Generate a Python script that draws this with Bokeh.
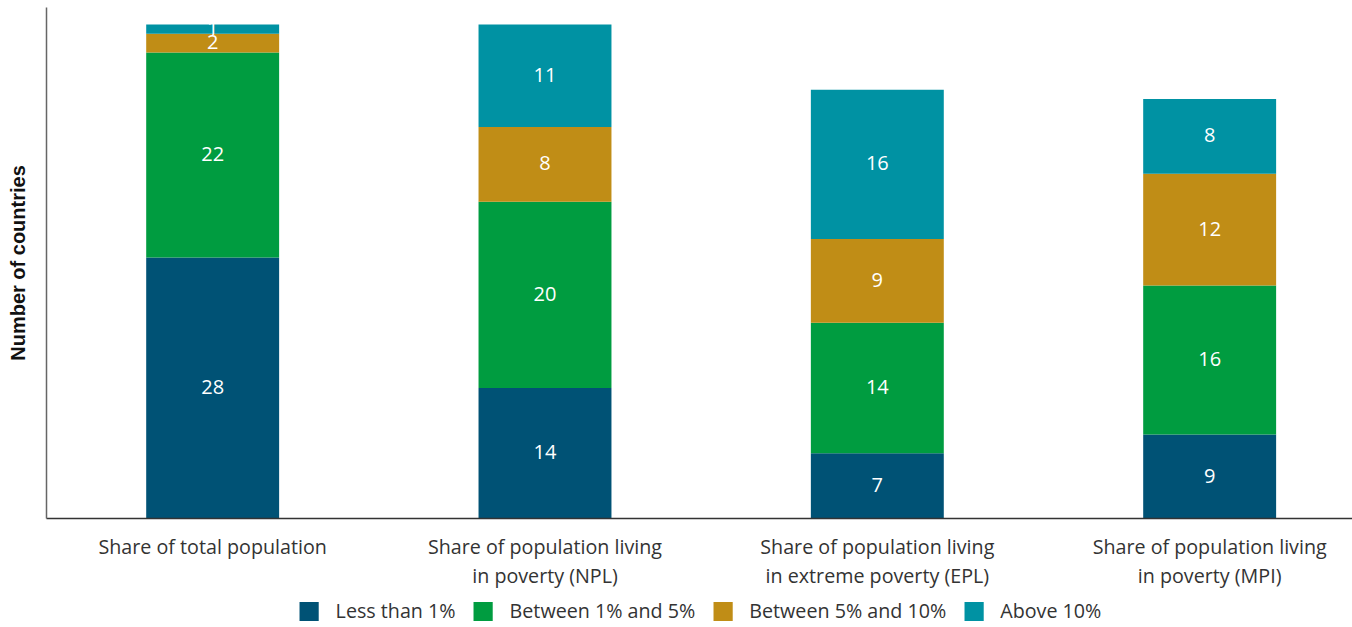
from bokeh.plotting import figure
from bokeh.layouts import column
from bokeh.models import ColumnDataSource, Range1d, FixedTicker, Legend, LegendItem
from bokeh.embed import file_html
from bokeh.resources import INLINE
from bokeh.core.properties import value

categories = [
    "Share of total population",
    "Share of population living\nin poverty (NPL)",
    "Share of population living\nin extreme poverty (EPL)",
    "Share of population living\nin poverty (MPI)",
]
series_names = ["Less than 1%", "Between 1% and 5%", "Between 5% and 10%", "Above 10%"]
less_than_1 = [28, 14, 7, 9]
between_1_5 = [22, 20, 14, 16]
between_5_10 = [2, 8, 9, 12]
above_10 = [1, 11, 16, 8]
colors = ["#005275", "#009c40", "#c08d16", "#0092a3"]

FONT = "Open Sans"
series = [less_than_1, between_1_5, between_5_10, above_10]
keys = ["s0", "s1", "s2", "s3"]
xpos = list(range(1, len(categories) + 1))

data = {"x": xpos}
for k, s in zip(keys, series):
    data[k] = s
source = ColumnDataSource(data)

p = figure(
    width=1352, height=592,
    x_range=Range1d(0.5, 0.5 + 1306 / 332.33),
    y_range=Range1d(0, 54.83),
    output_backend="svg", toolbar_location=None,
    min_border_left=46, min_border_right=0, min_border_top=7, min_border_bottom=0,
)
p.outline_line_color = None
p.xgrid.visible = False
p.ygrid.visible = False

renderers = p.vbar_stack(keys, x="x", width=0.4, source=source, color=colors, line_color=None)

lx, ly, lt = [], [], []
for i, x in enumerate(xpos):
    base = 0
    for s in series:
        v = s[i]
        lx.append(x)
        ly.append(base + v / 2)
        lt.append(str(v))
        base += v
p.text(x=lx, y=ly, text=lt, text_color="white", text_align="center", text_baseline="middle",
       text_font=value(FONT), text_font_size="20px", y_offset=-1)

p.xaxis.ticker = FixedTicker(ticks=xpos)
p.xaxis.major_label_overrides = {x: c for x, c in zip(xpos, categories)}
p.xaxis.major_tick_line_color = None
p.xaxis.minor_tick_line_color = None
p.xaxis.major_tick_out = 0
p.xaxis.major_tick_in = 0
p.xaxis.major_label_standoff = 14
p.xaxis.major_label_text_font = FONT
p.xaxis.major_label_text_font_size = "19.7px"
p.xaxis.major_label_text_color = "#333333"
p.xaxis.major_label_text_line_height = 1.1
p.xaxis.axis_line_color = "#333333"
p.xaxis.axis_line_width = 1.5

p.yaxis.ticker = FixedTicker(ticks=[])
p.yaxis.minor_tick_line_color = None
p.yaxis.major_tick_line_color = None
p.yaxis.major_tick_out = 0
p.yaxis.axis_line_color = "#666666"
p.yaxis.axis_line_width = 1.5
p.yaxis.axis_label = "Number of countries"
p.yaxis.axis_label_text_font = "Liberation Sans"
p.yaxis.axis_label_text_font_style = "bold"
p.yaxis.axis_label_text_font_size = "20px"
p.yaxis.axis_label_text_color = "#111111"
p.yaxis.axis_label_standoff = 18

# legend strip (same stacked series, kept far outside its visible ranges; only the legend shows)
lg = figure(
    width=1352, height=35, output_backend="svg", toolbar_location=None,
    x_range=Range1d(1000, 1001), y_range=Range1d(1000, 1001),
    x_axis_location=None, y_axis_location=None,
    min_border_left=46, min_border_right=0, min_border_top=0, min_border_bottom=0,
)
lg.outline_line_color = None
lg.xgrid.visible = False
lg.ygrid.visible = False
swatches = lg.vbar_stack(keys, x="x", width=0.4, source=source, color=colors, line_color=None)

legend = Legend(
    items=[LegendItem(label=n, renderers=[r]) for n, r in zip(series_names, swatches)],
    orientation="horizontal", location="bottom_center",
    glyph_width=24, glyph_height=24, label_standoff=15, spacing=15,
    label_text_font=FONT, label_text_font_size="19.7px", label_text_color="#333333",
    label_height=24,
    border_line_color=None, background_fill_alpha=0, padding=0, margin=3,
)
lg.add_layout(legend, "center")

layout = column(p, lg, spacing=0)
open("out.html", "w").write(file_html(layout, INLINE))
